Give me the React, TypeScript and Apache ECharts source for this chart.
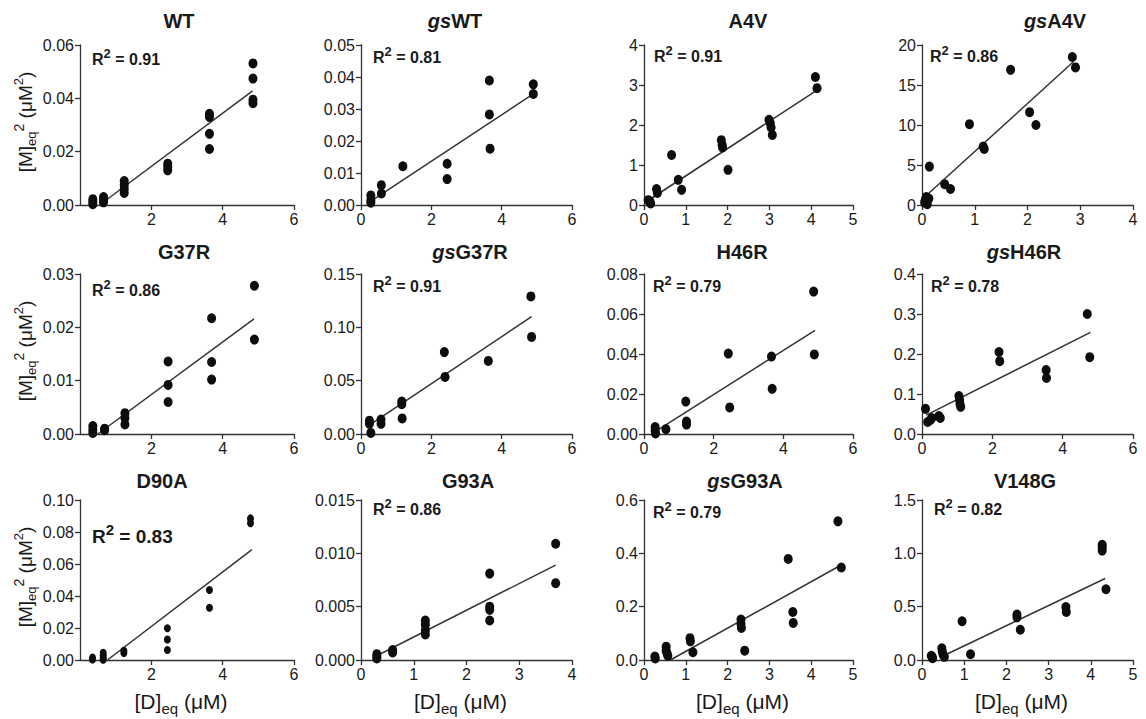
import React, { useEffect, useRef } from 'react';
import * as echarts from 'echarts';

// ---- panel meta ----
const panelTitles = ['WT', 'gsWT', 'A4V', 'gsA4V', 'G37R', 'gsG37R', 'H46R', 'gsH46R', 'D90A', 'G93A', 'gsG93A', 'V148G'];
const rSquared = ['0.91', '0.81', '0.91', '0.86', '0.86', '0.91', '0.79', '0.78', '0.83', '0.86', '0.79', '0.82'];
const xMax = [6, 6, 5, 4, 6, 6, 6, 6, 6, 4, 5, 5];
const xStep = [2, 2, 1, 1, 2, 2, 2, 2, 2, 1, 1, 1];
const yMax = [0.06, 0.05, 4, 20, 0.03, 0.15, 0.08, 0.4, 0.1, 0.015, 0.6, 1.5];
const yStep = [0.02, 0.01, 1, 5, 0.01, 0.05, 0.02, 0.1, 0.02, 0.005, 0.2, 0.5];
const yDecimals = [2, 2, 0, 0, 2, 2, 2, 1, 2, 3, 1, 1];

// ---- data ([D]eq, [M]eq^2) ----
const wtData = [[0.36, 0.0003], [0.36, 0.0012], [0.36, 0.0022], [0.66, 0.001], [0.66, 0.002], [0.66, 0.003], [1.24, 0.0045], [1.24, 0.006], [1.24, 0.0075], [1.24, 0.009], [2.46, 0.013], [2.46, 0.0143], [2.46, 0.0155], [3.63, 0.021], [3.63, 0.0267], [3.63, 0.033], [3.63, 0.0342], [4.85, 0.0382], [4.85, 0.0395], [4.85, 0.0474], [4.85, 0.0531]];
const gsWtData = [[0.28, 0.003], [0.28, 0.0015], [0.28, 0.0007], [0.58, 0.0062], [0.58, 0.0036], [1.19, 0.0121], [2.45, 0.0129], [2.45, 0.0081], [3.65, 0.0389], [3.65, 0.0283], [3.67, 0.0176], [4.9, 0.0377], [4.9, 0.0347]];
const a4vData = [[0.1, 0.12], [0.14, 0.09], [0.16, 0.04], [0.3, 0.4], [0.32, 0.3], [0.66, 1.25], [0.82, 0.63], [0.9, 0.38], [1.85, 1.62], [1.87, 1.5], [1.88, 1.44], [2.01, 0.88], [2.99, 2.13], [3.02, 2.05], [3.04, 1.94], [3.07, 1.75], [4.1, 3.2], [4.14, 2.92]];
const gsA4vData = [[0.05, 0.3], [0.08, 1.0], [0.1, 0.1], [0.13, 0.8], [0.14, 4.8], [0.06, 0.6], [0.43, 2.6], [0.54, 2.0], [0.9, 10.1], [1.16, 7.3], [1.18, 7.0], [1.68, 16.9], [2.04, 11.6], [2.16, 10.0], [2.85, 18.5], [2.91, 17.2]];
const g37rData = [[0.36, 0.0015], [0.36, 0.0008], [0.36, 0.0002], [0.69, 0.001], [0.69, 0.0007], [1.26, 0.0039], [1.26, 0.003], [1.26, 0.0018], [2.47, 0.0136], [2.47, 0.0092], [2.47, 0.006], [3.69, 0.0217], [3.69, 0.0135], [3.69, 0.0102], [4.89, 0.0278], [4.89, 0.0177]];
const gsG37rData = [[0.24, 0.0125], [0.24, 0.0095], [0.28, 0.001], [0.57, 0.0135], [0.57, 0.0095], [1.16, 0.0305], [1.16, 0.028], [1.17, 0.0146], [2.37, 0.0768], [2.39, 0.0535], [3.62, 0.0685], [4.83, 0.129], [4.85, 0.091]];
const h46rData = [[0.32, 0.0035], [0.32, 0.0018], [0.33, 0.0003], [0.63, 0.0024], [1.2, 0.0162], [1.22, 0.0062], [1.22, 0.0047], [2.42, 0.0402], [2.46, 0.0133], [3.66, 0.0387], [3.68, 0.0226], [4.87, 0.0712], [4.89, 0.0398]];
const gsH46rData = [[0.1, 0.063], [0.16, 0.03], [0.24, 0.035], [0.28, 0.04], [0.48, 0.045], [0.52, 0.04], [1.05, 0.095], [1.07, 0.085], [1.08, 0.075], [1.1, 0.068], [2.19, 0.205], [2.21, 0.182], [3.53, 0.16], [3.54, 0.14], [4.7, 0.3], [4.77, 0.192]];
const d90aData = [[0.35, 0.0015], [0.35, 0.0003], [0.65, 0.0045], [0.65, 0.0028], [0.65, 0.0012], [0.65, 0.0002], [1.23, 0.0058], [1.23, 0.0044], [2.45, 0.0198], [2.45, 0.0128], [2.45, 0.0063], [3.63, 0.0438], [3.63, 0.0327], [4.78, 0.0885], [4.78, 0.0855]];
const g93aData = [[0.3, 0.00055], [0.3, 0.0003], [0.3, 0.00015], [0.6, 0.00094], [0.6, 0.0007], [1.22, 0.0037], [1.22, 0.0033], [1.22, 0.0028], [1.22, 0.0024], [2.44, 0.0081], [2.44, 0.005], [2.44, 0.0047], [2.44, 0.0037], [3.69, 0.0109], [3.69, 0.0072]];
const gsG93aData = [[0.26, 0.013], [0.27, 0.006], [0.53, 0.05], [0.53, 0.035], [0.55, 0.025], [0.57, 0.016], [1.1, 0.082], [1.11, 0.07], [1.17, 0.029], [2.32, 0.152], [2.32, 0.135], [2.33, 0.12], [2.41, 0.035], [3.45, 0.379], [3.56, 0.18], [3.57, 0.139], [4.64, 0.52], [4.72, 0.347]];
const v148gData = [[0.22, 0.04], [0.25, 0.016], [0.24, 0.03], [0.47, 0.11], [0.48, 0.08], [0.5, 0.05], [0.53, 0.03], [0.95, 0.363], [1.15, 0.054], [2.25, 0.426], [2.25, 0.4], [2.33, 0.284], [3.41, 0.496], [3.42, 0.45], [4.27, 1.08], [4.27, 1.058], [4.27, 1.026], [4.36, 0.663]];

// ---- fitted lines (start, end) ----
const wtFit = [[0.55, 0], [4.84, 0.0428]];
const gsWtFit = [[0.23, 0.0008], [4.9, 0.0347]];
const a4vFit = [[0.08, 0.1], [4.15, 2.88]];
const gsA4vFit = [[0.05, 1.0], [2.87, 17.9]];
const g37rFit = [[0.5, 0], [4.88, 0.0216]];
const gsG37rFit = [[0.24, 0.0084], [4.85, 0.11]];
const h46rFit = [[0.32, 0.0012], [4.91, 0.0518]];
const gsH46rFit = [[0.12, 0.047], [4.79, 0.254]];
const d90aFit = [[0.77, 0], [4.82, 0.069]];
const g93aFit = [[0.3, 0.0004], [3.69, 0.0089]];
const gsG93aFit = [[0.63, 0], [4.76, 0.36]];
const v148gFit = [[0.51, 0.04], [4.34, 0.764]];

const allData = [wtData, gsWtData, a4vData, gsA4vData, g37rData, gsG37rData, h46rData, gsH46rData, d90aData, g93aData, gsG93aData, v148gData];
const allFits = [wtFit, gsWtFit, a4vFit, gsA4vFit, g37rFit, gsG37rFit, h46rFit, gsH46rFit, d90aFit, g93aFit, gsG93aFit, v148gFit];

// ---- layout ----
const colLeft = [80, 361, 644, 922];
const colWidth = [214, 211, 209, 211];
const rowTop = [45, 274, 500];
const rowHeight = 160;
const titleX = [179, 455, 748, 1055, 184, 470, 742, 1024, 162, 468, 745, 1025];
const titleY = [21, 252, 481];
const r2Pos = [[92, 59], [373, 57], [654, 56], [930, 56], [92, 290], [373, 286], [653, 286], [931, 286], [92, 536], [373, 509], [653, 512], [934, 509]];

const FONT = '"Liberation Sans", Arial, Helvetica, sans-serif';
const INK = '#1a1a1a';

export default function App() {
  const ref = useRef<HTMLDivElement>(null);
  useEffect(() => {
    document.body.style.margin = '0';
    const chart = echarts.init(ref.current!, null, { renderer: 'svg' });
    const grids: any[] = [];
    const xAxes: any[] = [];
    const yAxes: any[] = [];
    const series: any[] = [];
    const graphics: any[] = [];
    for (let i = 0; i < 12; i++) {
      const r = Math.floor(i / 4);
      const c = i % 4;
      grids.push({ left: colLeft[c], top: rowTop[r], width: colWidth[c], height: rowHeight });
      const axisLine = { show: true, onZero: false, lineStyle: { color: '#333', width: 1.3 } };
      xAxes.push({
        type: 'value', gridIndex: i, min: 0, max: xMax[i], interval: xStep[i],
        axisLine, axisTick: { show: true, length: 5, lineStyle: { color: '#333', width: 1.3 } },
        splitLine: { show: false },
        axisLabel: { fontSize: 16, color: INK, fontFamily: FONT, margin: 6, showMinLabel: c !== 0, showMaxLabel: true, formatter: (v: number) => String(Math.round(v)) },
      });
      const dec = yDecimals[i];
      yAxes.push({
        type: 'value', gridIndex: i, min: 0, max: yMax[i], interval: yStep[i],
        axisLine, axisTick: { show: true, length: 5, lineStyle: { color: '#333', width: 1.3 } },
        splitLine: { show: false },
        axisLabel: { fontSize: 16, color: INK, fontFamily: FONT, margin: 6, showMinLabel: true, showMaxLabel: true, formatter: (v: number) => v.toFixed(dec) },
      });
      series.push({
        type: 'line', xAxisIndex: i, yAxisIndex: i, data: allFits[i], symbol: 'none', silent: true,
        lineStyle: { color: '#333', width: 1.5 }, z: 2,
      });
      series.push({
        type: 'scatter', xAxisIndex: i, yAxisIndex: i, data: allData[i], symbol: 'circle',
        symbolSize: i === 8 ? [7, 8] : [9, 10], clip: false, silent: true,
        itemStyle: { color: '#0d0d0d', opacity: 1 }, z: 3,
      });
      // title
      const t = panelTitles[i];
      const titleText = t.startsWith('gs') ? `{i|gs}{b|${t.slice(2)}}` : `{b|${t}}`;
      graphics.push({
        type: 'text', x: titleX[i], y: titleY[r], silent: true,
        style: {
          text: titleText, align: 'center', verticalAlign: 'middle',
          rich: {
            i: { fontFamily: FONT, fontSize: 20, fontWeight: 'bold', fontStyle: 'italic', fill: INK },
            b: { fontFamily: FONT, fontSize: 20, fontWeight: 'bold', fill: INK },
          },
        },
      });
      // R^2
      const big = i === 8;
      graphics.push({
        type: 'text', x: r2Pos[i][0], y: r2Pos[i][1], silent: true,
        style: {
          text: `{r|R}{s|2}{r| = ${rSquared[i]}}`, align: 'left', verticalAlign: 'middle',
          rich: {
            r: { fontFamily: FONT, fontSize: big ? 19 : 16, fontWeight: 'bold', fill: INK, lineHeight: big ? 28 : 24 },
            s: { fontFamily: FONT, fontSize: big ? 15 : 13, fontWeight: 'bold', fill: INK, lineHeight: 12, verticalAlign: 'top' },
          },
        },
      });
      if (c === 0) {
        graphics.push({
          type: 'text', x: 25, y: rowTop[r] + rowHeight / 2 - 3, rotation: Math.PI / 2, silent: true,
          style: {
            text: '{m|[M]}{sub|eq}{sup|2}{m| (μM}{sup2|2}{m|)}', align: 'center', verticalAlign: 'middle',
            rich: {
              m: { fontFamily: FONT, fontSize: 19, fill: INK, lineHeight: 26 },
              sub: { fontFamily: FONT, fontSize: 13, fill: INK, lineHeight: 13, verticalAlign: 'bottom' },
              sup: { fontFamily: FONT, fontSize: 14, fill: INK, lineHeight: 13, verticalAlign: 'top' },
              sup2: { fontFamily: FONT, fontSize: 13, fill: INK, lineHeight: 16, verticalAlign: 'top' },
            },
          },
        });
      }
      if (r === 2) {
        graphics.push({
          type: 'text', x: colLeft[c] + colWidth[c] / 2 - 6, y: 701, silent: true,
          style: {
            text: '{m|[D]}{sub|eq}{m| (μM)}', align: 'center', verticalAlign: 'middle',
            rich: {
              m: { fontFamily: FONT, fontSize: 21, fill: INK, lineHeight: 30 },
              sub: { fontFamily: FONT, fontSize: 15, fill: INK, lineHeight: 15, verticalAlign: 'bottom' },
            },
          },
        });
      }
    }
    chart.setOption({
      animation: false,
      backgroundColor: '#ffffff',
      grid: grids,
      xAxis: xAxes,
      yAxis: yAxes,
      series,
      graphic: graphics,
    });
    return () => chart.dispose();
  }, []);
  return <div ref={ref} style={{ width: 1146, height: 719 }} />;
}
